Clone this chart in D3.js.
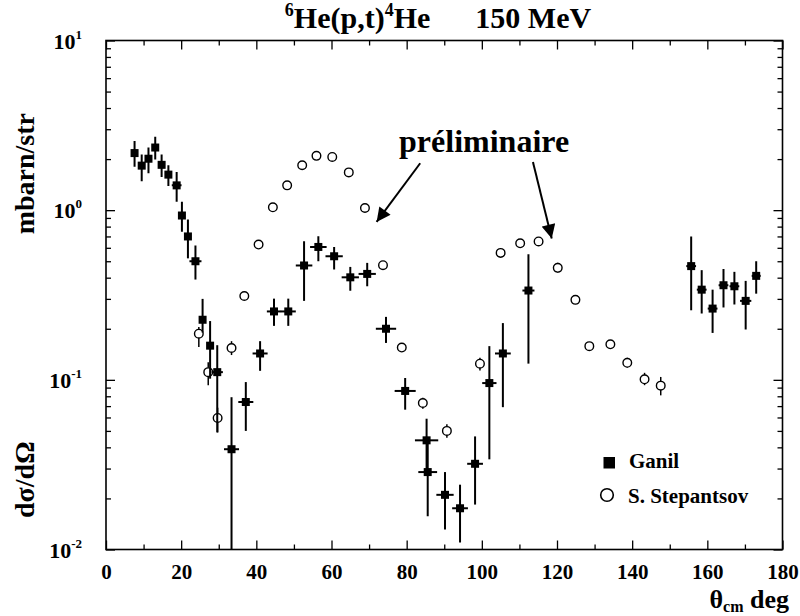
<!DOCTYPE html>
<html><head><meta charset="utf-8">
<script src="https://cdn.jsdelivr.net/npm/d3@7"></script>
<style>
body{margin:0;background:#fff}
svg text{font-family:"Liberation Serif","Times New Roman",serif !important;font-weight:bold !important;fill:#000}
</style>
</head><body><svg id="c" width="800" height="616"></svg>
<script>
// ---- Data: Ganil (filled squares) ----
const ganilAngle = [7.6,9.5,11.3,13.1,14.8,16.6,18.8,20.2,21.8,23.8,25.7,27.7,29.6,33.4,37.2,41.0,44.7,48.5,52.7,56.5,60.7,65.0,69.5,74.5,79.6,85.3,85.6,90.2,94.2,98.2,102.0,105.6,112.4,155.7,158.5,161.4,164.3,167.2,170.2,173.0];
const ganilXsec  = [2.17,1.83,2.01,2.34,1.85,1.62,1.40,0.93,0.70,0.50,0.226,0.159,0.111,0.039,0.074,0.143,0.253,0.253,0.472,0.607,0.535,0.402,0.421,0.20,0.086,0.044,0.0286,0.021,0.0175,0.032,0.0957,0.143,0.336,0.468,0.340,0.263,0.361,0.356,0.292,0.41];
const ganilHigh  = [2.56,2.13,2.34,2.71,2.13,1.84,1.68,1.12,0.88,0.62,0.30,0.222,0.16,0.079,0.097,0.169,0.301,0.301,0.656,0.703,0.607,0.463,0.489,0.235,0.1025,0.059,0.044,0.0286,0.0241,0.0464,0.158,0.216,0.55,0.70,0.443,0.34,0.45,0.433,0.383,0.50];
const ganilLow   = [1.80,1.48,1.65,1.99,1.57,1.39,1.12,0.745,0.52,0.39,0.19,0.1016,0.049,0.001,0.050,0.113,0.208,0.208,0.292,0.50,0.447,0.335,0.356,0.165,0.0667,0.0286,0.0157,0.0131,0.011,0.0184,0.034,0.069,0.1246,0.257,0.246,0.189,0.267,0.278,0.198,0.322];
const ganilAngleErr = [0,0,0,0,0,0,1.3,0,0,1.6,0,0,1.5,2.0,2.0,2.0,1.9,2.0,2.2,2.2,2.3,2.3,2.3,2.7,2.8,3.1,2.5,2.3,2.1,2.1,1.9,2.1,1.6,1.3,1.3,1.3,1.3,1.3,1.5,1.2];

// ---- Data: S. Stepantsov (open circles) ----
const stepAngle = [24.7,27.2,29.7,33.4,36.8,40.6,44.4,48.2,52.2,56.0,60.2,64.6,68.9,73.7,78.7,84.3,90.7,99.5,105.0,110.2,115.1,120.2,124.9,128.6,134.2,138.7,143.3,147.6];
const stepXsec  = [0.187,0.111,0.0596,0.154,0.312,0.627,1.04,1.40,1.84,2.09,2.06,1.67,1.03,0.474,0.155,0.073,0.050,0.1245,0.56,0.638,0.654,0.457,0.296,0.158,0.162,0.126,0.1007,0.0924];
const stepHigh  = [0.205,0.127,0.0685,0.169,0.32,0.64,1.06,1.43,1.88,2.13,2.10,1.70,1.05,0.49,0.16,0.0783,0.0547,0.135,0.58,0.65,0.67,0.49,0.315,0.162,0.166,0.135,0.110,0.104];
const stepLow   = [0.156,0.093,0.049,0.140,0.305,0.615,1.02,1.37,1.80,2.05,2.02,1.64,1.01,0.46,0.15,0.0676,0.0455,0.1135,0.54,0.625,0.64,0.427,0.279,0.154,0.158,0.118,0.093,0.081];

// ---- Axis ticks ----
const xMajorTicks = [0,20,40,60,80,100,120,140,160,180];
const xMinorTicks = [10,30,50,70,90,110,130,150,170];
const yMajorTicks = [0.01,0.1,1,10];
const yMajorExp = ["-2","-1","0","1"];

// ---- Text ----
const titleMain = ["6","He(p,t)","4","He      150 MeV"];
const legendLabels = ["Ganil","S. Stepantsov"];
const annotation = {text:"préliminaire", angle:100.6, value:2.2};
const arrows = [
  {from:[83.6,1.89], to:[72.0,0.853]},
  {from:[113.6,1.92], to:[118.6,0.681]}
];

const FONT = '"Liberation Serif","Times New Roman",serif';
const svg = d3.select("#c");
const L=106, R=782.5, T=40.5, B=549.5;
const x = d3.scaleLinear().domain([0,180]).range([L,R]);
const y = d3.scaleLog().domain([0.01,10]).range([B,T]);

const yMinorTicks = [];
[0.01,0.1,1].forEach(d=>{for(let k=2;k<=9;k++) yMinorTicks.push(+(d*k).toPrecision(3));});

const g = svg.append("g");
function styleAxis(sel){
  sel.attr("font-family",FONT);
  sel.select(".domain").remove();
  sel.selectAll("line").attr("stroke","#000").attr("stroke-width",1.3);
}
g.append("g").attr("transform",`translate(0,${B})`)
 .call(d3.axisBottom(x).tickValues(xMajorTicks).tickSize(-9).tickPadding(15).tickFormat(d3.format("d")))
 .call(styleAxis)
 .call(s=>s.selectAll("text").attr("font-size",21).style("font-family",FONT).style("font-weight","bold").attr("fill","#000"));
g.append("g").attr("transform",`translate(0,${B})`)
 .call(d3.axisBottom(x).tickValues(xMinorTicks).tickSize(-5).tickFormat("")).call(styleAxis);
g.append("g").attr("transform",`translate(0,${T})`)
 .call(d3.axisTop(x).tickValues(xMajorTicks).tickSize(-9).tickFormat("")).call(styleAxis);
g.append("g").attr("transform",`translate(0,${T})`)
 .call(d3.axisTop(x).tickValues(xMinorTicks).tickSize(-5).tickFormat("")).call(styleAxis);
g.append("g").attr("transform",`translate(${L},0)`)
 .call(d3.axisLeft(y).tickValues(yMajorTicks).tickSize(-9).tickFormat("")).call(styleAxis);
g.append("g").attr("transform",`translate(${L},0)`)
 .call(d3.axisLeft(y).tickValues(yMinorTicks).tickSize(-5).tickFormat("")).call(styleAxis);
g.append("g").attr("transform",`translate(${R},0)`)
 .call(d3.axisRight(y).tickValues(yMajorTicks).tickSize(-9).tickFormat("")).call(styleAxis);
g.append("g").attr("transform",`translate(${R},0)`)
 .call(d3.axisRight(y).tickValues(yMinorTicks).tickSize(-5).tickFormat("")).call(styleAxis);

svg.append("rect").attr("x",L).attr("y",T).attr("width",R-L).attr("height",B-T)
  .attr("fill","none").attr("stroke","#000").attr("stroke-width",1.6);

yMajorTicks.forEach((v,i)=>{
  const t = svg.append("text").attr("x",82).attr("y",y(v)+8).attr("text-anchor","end").attr("font-size",22);
  t.append("tspan").text("10");
  t.append("tspan").attr("font-size",13).attr("dy",-10).text(yMajorExp[i]);
});

svg.append("clipPath").attr("id","clip").append("rect").attr("x",L).attr("y",T).attr("width",R-L).attr("height",B-T);
const dg = svg.append("g").attr("clip-path","url(#clip)");

const ganil = ganilAngle.map((a,i)=>({a, v:ganilXsec[i], hi:ganilHigh[i], lo:ganilLow[i], ea:ganilAngleErr[i]}));
const yc = v => y(Math.max(v, 0.005));
dg.selectAll(".gv").data(ganil).join("line")
  .attr("x1",d=>x(d.a)).attr("x2",d=>x(d.a))
  .attr("y1",d=>yc(d.hi)).attr("y2",d=>yc(d.lo))
  .attr("stroke","#000").attr("stroke-width",2);
dg.selectAll(".gh").data(ganil.filter(d=>d.ea>0)).join("line")
  .attr("x1",d=>x(d.a-d.ea)).attr("x2",d=>x(d.a+d.ea))
  .attr("y1",d=>y(d.v)).attr("y2",d=>y(d.v))
  .attr("stroke","#000").attr("stroke-width",2);
const sq = 8;
dg.selectAll(".gs").data(ganil).join("rect")
  .attr("x",d=>x(d.a)-sq/2).attr("y",d=>y(d.v)-sq/2)
  .attr("width",sq).attr("height",sq).attr("fill","#000");

const step = stepAngle.map((a,i)=>({a, v:stepXsec[i], hi:stepHigh[i], lo:stepLow[i]}));
const r = 4.3;
dg.selectAll(".su").data(step.filter(d=>y(d.hi) < y(d.v)-r)).join("line")
  .attr("x1",d=>x(d.a)).attr("x2",d=>x(d.a))
  .attr("y1",d=>y(d.hi)).attr("y2",d=>y(d.v)-r)
  .attr("stroke","#000").attr("stroke-width",1.5);
dg.selectAll(".sl").data(step.filter(d=>y(d.lo) > y(d.v)+r)).join("line")
  .attr("x1",d=>x(d.a)).attr("x2",d=>x(d.a))
  .attr("y1",d=>y(d.v)+r).attr("y2",d=>y(d.lo))
  .attr("stroke","#000").attr("stroke-width",1.5);
dg.selectAll(".sc").data(step).join("circle")
  .attr("cx",d=>x(d.a)).attr("cy",d=>y(d.v)).attr("r",r)
  .attr("fill","none").attr("stroke","#000").attr("stroke-width",1.4);

// title
const tt = svg.append("text").attr("x",438).attr("y",28).attr("text-anchor","middle").attr("font-size",30).style("white-space","pre");
tt.append("tspan").attr("font-size",18).attr("dy",-12).text(titleMain[0]);
tt.append("tspan").attr("dy",12).text(titleMain[1]);
tt.append("tspan").attr("font-size",18).attr("dy",-12).text(titleMain[2]);
tt.append("tspan").attr("dy",12).text(titleMain[3]);

// x axis title
const xt = svg.append("text").attr("x",789).attr("y",608).attr("text-anchor","end").attr("font-size",26);
xt.append("tspan").text("θ");
xt.append("tspan").attr("font-size",16).attr("dy",4).text("cm");
xt.append("tspan").attr("dy",-4).text(" deg");

// y axis title
svg.append("text").attr("transform","translate(34,518) rotate(-90)").attr("text-anchor","start").attr("font-size",28).text("dσ/dΩ");
svg.append("text").attr("transform","translate(34,113) rotate(-90)").attr("text-anchor","end").attr("font-size",28).text("mbarn/str");

// annotation
svg.append("text").attr("x",x(annotation.angle)).attr("y",y(annotation.value)).attr("text-anchor","middle").attr("font-size",32).text(annotation.text);
const defs = svg.append("defs");
defs.append("marker").attr("id","ah").attr("viewBox","0 0 10 10").attr("refX",10).attr("refY",5)
  .attr("markerWidth",16).attr("markerHeight",14).attr("markerUnits","userSpaceOnUse").attr("orient","auto")
  .append("path").attr("d","M0,0 L10,5 L0,10 Z").attr("fill","#000");
svg.selectAll(".arr").data(arrows).join("line")
  .attr("x1",d=>x(d.from[0])).attr("y1",d=>y(d.from[1]))
  .attr("x2",d=>x(d.to[0])).attr("y2",d=>y(d.to[1]))
  .attr("stroke","#000").attr("stroke-width",2).attr("marker-end","url(#ah)");

// legend
svg.append("rect").attr("x",603.5).attr("y",457).attr("width",11.5).attr("height",11.5).attr("fill","#000");
svg.append("circle").attr("cx",607).attr("cy",495).attr("r",6.3).attr("fill","none").attr("stroke","#000").attr("stroke-width",1.6);
svg.append("text").attr("x",629).attr("y",468).attr("font-size",21).text(legendLabels[0]);
svg.append("text").attr("x",628).attr("y",503).attr("font-size",21).text(legendLabels[1]);
</script></body></html>
